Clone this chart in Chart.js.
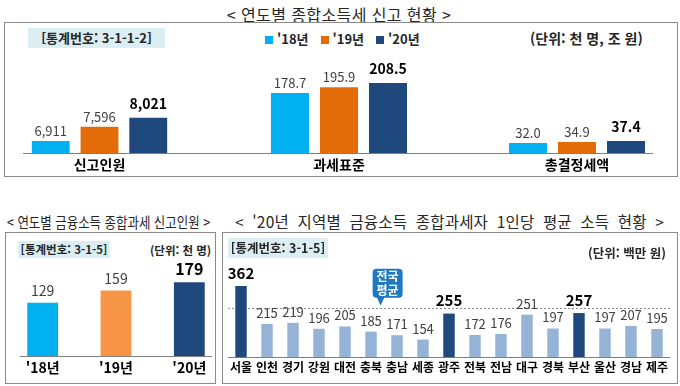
<!DOCTYPE html>
<html lang="ko">
<head>
<meta charset="utf-8">
<script src="https://cdn.jsdelivr.net/npm/chart.js@4.4.1/dist/chart.umd.min.js"></script>
<style>
  body { margin: 0; width: 680px; height: 386px; overflow: hidden; background: #fff; font-family: "Noto Sans CJK KR", sans-serif; }
  #wrap { position: relative; width: 680px; height: 386px; }
  .box { position: absolute; border: 1px solid #8a8a8a; box-sizing: border-box; }
  .title { position: absolute; color: #262626; white-space: nowrap; }
  .tag { position: absolute; background: #daeef3; font-weight: bold; color: #262626; white-space: nowrap; text-align: center; }
  .unit { position: absolute; font-weight: bold; color: #262626; white-space: nowrap; }
  .base { position: absolute; height: 1px; background: #7f7f7f; }
  .cv { position: absolute; }
  #legend { position: absolute; left: 265px; top: 29px; font-size: 13px; font-weight: bold; color: #262626; white-space: nowrap; }
  #legend span { margin-right: 12px; }
  #legend i { display: inline-block; width: 8px; height: 8px; margin-right: 4px; }
</style>
</head>
<body>
<div id="wrap">
  <div class="title" style="left:0;width:678px;top:2px;text-align:center;font-size:16px;letter-spacing:0.4px;">&lt; 연도별 종합소득세 신고 현황 &gt;</div>
  <div class="box" style="left:4px;top:22px;width:674px;height:155px;"></div>
  <div class="tag" style="left:28px;top:28px;width:137px;height:20px;line-height:20px;font-size:13px;">[통계번호: 3-1-1-2]</div>
  <div id="legend"></div>
  <div class="unit" style="left:530px;top:28px;font-size:14px;">(단위: 천 명, 조 원)</div>
  <canvas id="top0" class="cv" width="199" height="126" style="left:0px;top:50px;"></canvas>
  <canvas id="top1" class="cv" width="200" height="126" style="left:239px;top:50px;"></canvas>
  <canvas id="top2" class="cv" width="200" height="126" style="left:477px;top:50px;"></canvas>
  <div class="base" style="left:23px;top:153px;width:630px;"></div>

  <div class="title" style="left:7px;top:211px;font-size:15px;transform:scaleX(0.83);transform-origin:left top;">&lt; 연도별 금융소득 종합과세 신고인원 &gt;</div>
  <div class="box" style="left:5px;top:232px;width:211px;height:152px;"></div>
  <div class="tag" style="left:18px;top:241px;width:92px;height:17px;line-height:17px;font-size:11.5px;">[통계번호: 3-1-5]</div>
  <div class="unit" style="left:150px;top:242px;font-size:11.5px;">(단위: 천 명)</div>
  <canvas id="fin" class="cv" width="220" height="130" style="left:6px;top:250px;"></canvas>
  <div class="base" style="left:20px;top:356px;width:192px;"></div>

  <div class="title" style="left:235px;top:210px;font-size:15.5px;word-spacing:4px;letter-spacing:0.2px;">&lt; '20년 지역별 금융소득 <span style="border-bottom:1px solid #d2c29a;">종합과세자</span> 1인당 평균 소득 현황 &gt;</div>
  <div class="box" style="left:222px;top:232px;width:456px;height:152px;"></div>
  <div class="tag" style="left:228px;top:238px;width:100px;height:20px;line-height:20px;font-size:12.5px;">[통계번호: 3-1-5]</div>
  <div class="unit" style="left:588px;top:243px;font-size:12.5px;">(단위: 백만 원)</div>
  <canvas id="region" class="cv" width="444" height="122" style="left:227px;top:258px;"></canvas>
</div>
<script>
// 연도별 종합소득세 신고 현황
const years = ["'18년", "'19년", "'20년"];
const yearColors = ['#00b0f0', '#e36c09', '#1f497d'];
const taxItems = ['신고인원', '과세표준', '총결정세액'];
const filers = [6911, 7596, 8021];       // 천 명
const taxBase = [178.7, 195.9, 208.5];   // 조 원
const taxDecided = [32.0, 34.9, 37.4];   // 조 원

// 연도별 금융소득 종합과세 신고인원 (천 명)
const finFilers = [129, 159, 179];
const finColors = ['#00b0f0', '#f79646', '#1f497d'];

// '20년 지역별 1인당 평균 소득 (백만 원)
const regions = ['서울', '인천', '경기', '강원', '대전', '충북', '충남', '세종', '광주', '전북', '전남', '대구', '경북', '부산', '울산', '경남', '제주'];
const regionIncome = [362, 215, 219, 196, 205, 185, 171, 154, 255, 172, 176, 251, 197, 257, 197, 207, 195];
const highlighted = ['서울', '광주', '부산'];
const nationalAvg = 278;

Chart.defaults.font.family = "'Noto Sans CJK KR', sans-serif";
Chart.defaults.animation = false;

const valueLabels = {
  id: 'valueLabels',
  afterDatasetsDraw(chart, args, opts) {
    const ctx = chart.ctx;
    chart.data.datasets.forEach((ds, di) => {
      chart.getDatasetMeta(di).data.forEach((bar, i) => {
        const strong = opts.strong(di, i);
        ctx.save();
        ctx.font = (strong ? 'bold ' + opts.strongSize : opts.size) + "px 'Noto Sans CJK KR', sans-serif";
        ctx.fillStyle = strong ? '#000' : '#404040';
        ctx.textAlign = 'center';
        ctx.textBaseline = 'middle';
        ctx.fillText(opts.format(ds.data[i]), bar.x, bar.y - (strong ? opts.strongGap : opts.gap));
        ctx.restore();
      });
    });
  }
};

const avgMarker = {
  id: 'avgMarker',
  beforeDatasetsDraw(chart, args, opts) {
    const { ctx, chartArea, scales } = chart;
    const y = Math.round(scales.y.getPixelForValue(opts.value)) + 0.5;
    ctx.save();
    ctx.strokeStyle = '#8c8c8c';
    ctx.lineWidth = 1;
    ctx.setLineDash([2, 2]);
    ctx.beginPath();
    ctx.moveTo(chartArea.left, y);
    ctx.lineTo(chartArea.right, y);
    ctx.stroke();
    ctx.restore();
  },
  afterDatasetsDraw(chart, args, opts) {
    const { ctx, scales } = chart;
    const tipX = scales.x.getPixelForValue(opts.at);
    const tipY = scales.y.getPixelForValue(opts.value) - 2;
    const w = 30, h = 29, cx = tipX + 7, top = tipY - 8 - h;
    ctx.save();
    ctx.fillStyle = '#1f78c1';
    ctx.beginPath();
    ctx.roundRect(cx - w / 2, top, w, h, 4);
    ctx.fill();
    ctx.beginPath();
    ctx.moveTo(tipX - 4, top + h - 1);
    ctx.lineTo(tipX, tipY);
    ctx.lineTo(tipX + 4, top + h - 1);
    ctx.fill();
    ctx.fillStyle = '#fff';
    ctx.font = "bold 12px 'Noto Sans CJK KR', sans-serif";
    ctx.textAlign = 'center';
    ctx.textBaseline = 'middle';
    opts.text.forEach((t, k) => ctx.fillText(t, cx, top + 8 + k * 14));
    ctx.restore();
  }
};

const legendEl = document.getElementById('legend');
years.forEach((y, k) => {
  const item = document.createElement('span');
  item.innerHTML = '<i style="background:' + yearColors[k] + '"></i>' + y;
  legendEl.appendChild(item);
});

function xAxis(size, height, pad) {
  return {
    grid: { display: false, drawTicks: false },
    border: { display: false },
    ticks: { font: { size: size, weight: 'bold' }, color: '#000', padding: pad, autoSkip: false, maxRotation: 0 },
    afterFit: s => { s.height = height; }
  };
}

function topChart(id, idx, values, min, max, format) {
  new Chart(document.getElementById(id), {
    type: 'bar',
    data: {
      labels: [taxItems[idx]],
      datasets: years.map((y, k) => ({ label: y, data: [values[k]], backgroundColor: yearColors[k] }))
    },
    options: {
      responsive: false,
      categoryPercentage: 0.735,
      barPercentage: 0.776,
      layout: { padding: 0 },
      plugins: {
        legend: { display: false },
        tooltip: { enabled: false },
        valueLabels: { strong: di => di === 2, size: 13, strongSize: 14, gap: 10, strongGap: 14, format: format }
      },
      scales: { x: xAxis(14, 23, 3), y: { display: false, min: min, max: max } }
    },
    plugins: [valueLabels]
  });
}

topChart('top0', 0, filers, 6340, 11245, v => v.toLocaleString('en-US'));
topChart('top1', 1, taxBase, 0, 306.5, v => v.toFixed(1));
topChart('top2', 2, taxDecided, 5, 283, v => v.toFixed(1));

new Chart(document.getElementById('fin'), {
  type: 'bar',
  data: {
    labels: years,
    datasets: [{ data: finFilers, backgroundColor: finColors }]
  },
  options: {
    responsive: false,
    categoryPercentage: 1,
    barPercentage: 0.42,
    plugins: {
      legend: { display: false },
      tooltip: { enabled: false },
      valueLabels: { strong: (di, i) => i === 2, size: 14, strongSize: 16, gap: 12, strongGap: 13, format: v => String(v) }
    },
    scales: { x: xAxis(14, 24, 3), y: { display: false, min: 0, max: 257 } }
  },
  plugins: [valueLabels]
});

new Chart(document.getElementById('region'), {
  type: 'bar',
  data: {
    labels: regions,
    datasets: [{
      data: regionIncome,
      backgroundColor: regions.map(r => highlighted.includes(r) ? '#1f497d' : '#95b3d7')
    }]
  },
  options: {
    responsive: false,
    categoryPercentage: 1,
    barPercentage: 0.44,
    plugins: {
      legend: { display: false },
      tooltip: { enabled: false },
      valueLabels: { strong: (di, i) => highlighted.includes(regions[i]), size: 13, strongSize: 15, gap: 11, strongGap: 13, format: v => String(v) },
      avgMarker: { value: nationalAvg, at: 5.37, text: ['전국', '평균'] }
    },
    scales: {
      x: Object.assign(xAxis(12, 23, 3), { border: { display: true, color: '#7f7f7f' } }),
      y: { display: false, min: 86.5, max: 470.7 }
    }
  },
  plugins: [avgMarker, valueLabels]
});
</script>
</body>
</html>
